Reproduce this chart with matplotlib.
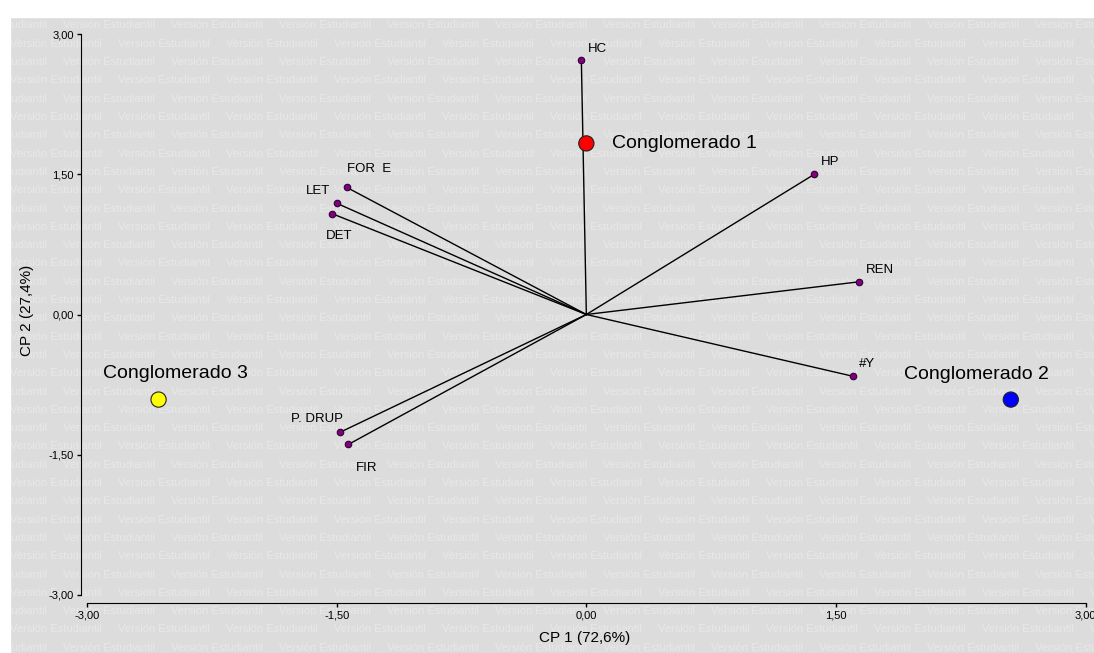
import numpy as np
import matplotlib.pyplot as plt
from matplotlib.patches import Rectangle

# ================================
# DATA
# ================================
var_names = ["HC", "HP", "REN", "#Y", "FOR  E", "LET", "DET", "P. DRUP", "FIR"]
var_x = [-0.03, 1.37, 1.64, 1.60, -1.44, -1.50, -1.53, -1.48, -1.43]
var_y = [2.72, 1.50, 0.35, -0.66, 1.36, 1.19, 1.08, -1.26, -1.39]

clus_names = ["Conglomerado 1", "Conglomerado 2", "Conglomerado 3"]
clus_x = [0.00, 2.55, -2.57]
clus_y = [1.83, -0.91, -0.91]
clus_colors = ["#FF0000", "#0000FF", "#FFFF00"]

ticks = [-3.0, -1.5, 0.0, 1.5, 3.0]

# label offsets in pixels (dx right, dy down) and alignment
var_offsets = [(7, -11, 'left'), (6, -12, 'left'), (7, -12, 'left'), (6, -12, 'left'),
               (0, -18, 'left'), (-19, -12, 'center'), (-6, 22, 'left'),
               (-49, -13, 'left'), (8, 24, 'left')]
clus_offsets = [(26, 0, 'left'), (-107, -25, 'left'), (-56, -26, 'left')]

W, H = 1094, 653
plt.rcParams['font.family'] = ['Liberation Sans', 'DejaVu Sans']

fig = plt.figure(figsize=(W / 100, H / 100), dpi=100)

# gray background with watermark
fig.patches.append(Rectangle((10 / W, 0), 1 - 10 / W, (H - 17) / H,
                             transform=fig.transFigure, color='#DCDCDC', zorder=-10))
row = 0
yy = 25.5
while yy < H + 10:
    start = 63 if row % 2 == 0 else 10
    xx = start - 108
    while xx < W:
        fig.text(xx / W, 1 - yy / H, "Versión Estudiantil", fontsize=8, color='#E8E8E8',
                 ha='left', va='center', zorder=-5, clip_on=True,
                 clip_box=None)
        xx += 108
    yy += 18.3
    row += 1
# cover the white margins again (text spilled over)
fig.patches.append(Rectangle((0, 0), 10 / W, 1, transform=fig.transFigure,
                             color='white', zorder=-4))
fig.patches.append(Rectangle((0, 1 - 17 / H), 1, 17 / H, transform=fig.transFigure,
                             color='white', zorder=-4))

ax = fig.add_axes([87 / W, (H - 595) / H, (1085.7 - 87) / W, (595 - 34) / H])
ax.patch.set_visible(False)
ax.set_xlim(-3, 3)
ax.set_ylim(-3, 3)

# vectors
for x, y in zip(var_x, var_y):
    ax.plot([0, x], [0, y], color='black', lw=1, zorder=2)
ax.scatter(var_x, var_y, s=22, color='#800080', edgecolor='#300030', linewidth=0.8, zorder=3)
for name, x, y, (dx, dy, ha) in zip(var_names, var_x, var_y, var_offsets):
    ax.annotate(name, (x, y), xytext=(dx * 0.72, -dy * 0.72), textcoords='offset points',
                ha=ha, va='center', fontsize=9.5, color='black')

# cluster centroids
ax.scatter(clus_x, clus_y, s=120, color=clus_colors, edgecolor='#202020', linewidth=0.8,
           zorder=4, clip_on=False)
for name, x, y, (dx, dy, ha) in zip(clus_names, clus_x, clus_y, clus_offsets):
    ax.annotate(name, (x, y), xytext=(dx * 0.72, -dy * 0.72), textcoords='offset points',
                ha=ha, va='center', fontsize=14, color='black')

# axes styling
for s in ['top', 'right']:
    ax.spines[s].set_visible(False)
ax.spines['left'].set_position(('outward', 4.3))
ax.spines['bottom'].set_position(('outward', 5.8))
ax.set_xticks(ticks)
ax.set_yticks(ticks)
fmt = [f"{t:.2f}".replace('.', ',') for t in ticks]
ax.set_xticklabels(fmt)
ax.set_yticklabels(fmt)
ax.tick_params(direction='out', length=3, width=1, labelsize=8, pad=2)

fig.text(585 / W, 1 - 638 / H, "CP 1 (72,6%)", fontsize=11, ha='center', va='center')
fig.text(27 / W, 1 - 310 / H, "CP 2 (27,4%)", fontsize=11, ha='center', va='center',
         rotation=90)

fig.savefig("out.png", dpi=100)
